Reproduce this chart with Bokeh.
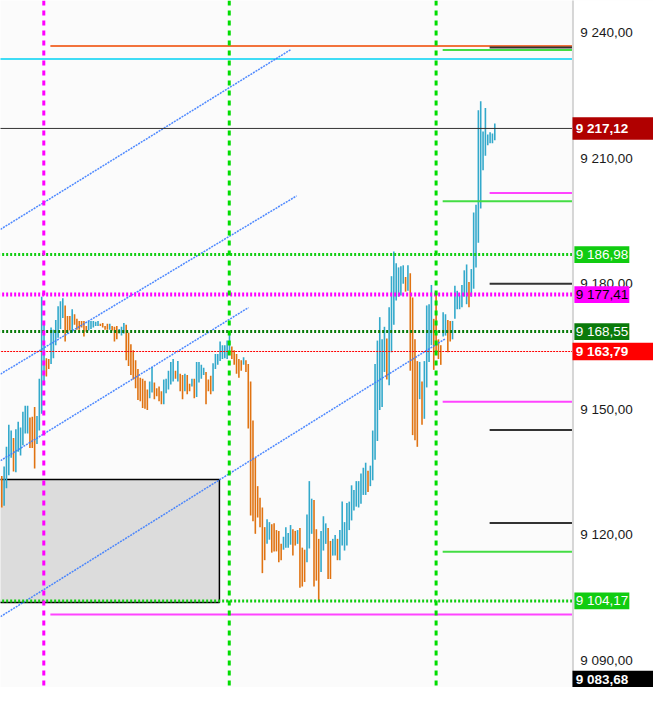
from bokeh.plotting import figure
from bokeh.models import Span, ColumnDataSource, Range1d
from bokeh.core.properties import value
from bokeh.embed import file_html
from bokeh.resources import INLINE

# ---------------- data ----------------
HIGHS = [
    9134.0, 9136.3, 9141.0, 9146.3, 9144.9, 9143.1, 9145.2, 9147.0, 9145.6, 9149.4,
    9150.8, 9150.8, 9148.0, 9148.2, 9150.5, 9148.4, 9157.3, 9176.9, 9171.1, 9162.2,
    9162.0, 9169.5, 9169.0, 9171.3, 9174.6, 9175.8, 9176.5, 9174.8, 9172.3, 9172.3,
    9173.9, 9172.7, 9171.6, 9171.1, 9171.1, 9171.1, 9169.9, 9171.1, 9171.1, 9171.1,
    9170.9, 9171.1, 9170.4, 9170.6, 9169.9, 9170.4, 9170.4, 9169.9, 9169.7, 9169.9,
    9169.2, 9169.7, 9170.6, 9170.2, 9168.3, 9165.5, 9164.1, 9161.7, 9159.6, 9157.5,
    9157.3, 9156.8, 9154.7, 9156.6, 9160.1, 9156.4, 9155.0, 9155.4, 9154.3, 9157.1,
    9157.3, 9159.2, 9161.3, 9162.0, 9159.2, 9161.5, 9158.5, 9158.2, 9158.5, 9158.2,
    9156.1, 9157.3, 9157.3, 9161.3, 9161.3, 9160.6, 9159.9, 9158.9, 9157.1, 9158.0,
    9161.0, 9163.2, 9163.2, 9166.2, 9165.3, 9165.3, 9166.4, 9168.3, 9165.0, 9164.1,
    9163.2, 9162.0, 9161.7, 9162.4, 9161.7, 9160.8, 9156.6, 9147.3, 9138.4, 9131.6,
    9128.8, 9126.5, 9121.8, 9123.7, 9123.0, 9122.5, 9122.7, 9121.1, 9120.9, 9117.8,
    9119.5, 9121.8, 9120.4, 9122.3, 9121.3, 9120.9, 9121.1, 9121.6, 9116.9, 9116.4,
    9124.8, 9132.8, 9128.6, 9128.3, 9121.3, 9119.0, 9120.9, 9124.4, 9122.7, 9121.6,
    9118.5, 9119.0, 9119.9, 9119.0, 9121.1, 9127.9, 9123.0, 9127.6, 9127.9, 9131.8,
    9130.7, 9132.8, 9132.8, 9134.6, 9136.0, 9137.2, 9135.3, 9136.5, 9144.9, 9160.8,
    9166.4, 9172.0, 9166.7, 9169.7, 9166.9, 9174.4, 9181.8, 9187.7, 9184.9, 9183.9,
    9184.2, 9184.4, 9181.6, 9184.4, 9182.5, 9176.7, 9166.7, 9161.5, 9161.3, 9156.6,
    9161.5, 9174.8, 9175.1, 9179.7, 9171.6, 9177.6, 9166.7, 9165.3, 9173.2, 9172.7,
    9171.3, 9171.1, 9171.1, 9179.5, 9178.3, 9177.2, 9179.7, 9183.2, 9184.6, 9180.4,
    9183.5, 9197.0, 9198.9, 9221.5, 9223.6, 9216.4, 9222.0, 9215.7, 9216.2, 9215.9,
    9218.3,
]
LOWS = [
    9126.5, 9126.9, 9131.1, 9134.2, 9138.4, 9135.1, 9134.9, 9139.8, 9138.9, 9141.4,
    9144.2, 9144.2, 9140.7, 9140.7, 9135.8, 9141.7, 9144.9, 9148.9, 9156.1, 9157.8,
    9159.6, 9160.8, 9162.2, 9165.3, 9167.1, 9169.2, 9171.8, 9166.2, 9168.3, 9168.8,
    9168.3, 9170.2, 9169.0, 9169.0, 9169.5, 9167.4, 9168.5, 9168.8, 9169.2, 9169.5,
    9169.9, 9169.9, 9169.9, 9169.5, 9169.0, 9169.0, 9169.0, 9168.8, 9166.2, 9166.7,
    9168.1, 9167.6, 9168.1, 9161.7, 9160.3, 9158.2, 9157.1, 9155.0, 9152.2, 9151.9,
    9150.3, 9150.1, 9149.8, 9152.6, 9154.0, 9152.4, 9153.1, 9151.9, 9151.2, 9151.2,
    9153.8, 9154.7, 9155.9, 9156.6, 9157.3, 9156.6, 9154.3, 9152.4, 9154.3, 9153.6,
    9154.3, 9155.4, 9152.6, 9152.9, 9156.4, 9157.3, 9158.2, 9151.2, 9154.3, 9153.6,
    9154.3, 9159.6, 9160.6, 9161.5, 9162.0, 9162.2, 9162.0, 9163.6, 9162.0, 9160.6,
    9158.5, 9157.5, 9159.2, 9160.6, 9158.9, 9145.4, 9124.6, 9123.2, 9120.2, 9124.1,
    9121.8, 9110.8, 9113.9, 9117.8, 9118.8, 9115.7, 9116.0, 9116.0, 9113.4, 9113.9,
    9116.4, 9116.9, 9116.9, 9117.6, 9115.0, 9117.4, 9117.8, 9107.3, 9107.6, 9108.7,
    9113.4, 9116.7, 9120.2, 9107.6, 9109.0, 9104.1, 9111.1, 9116.2, 9117.8, 9109.4,
    9109.4, 9115.0, 9115.0, 9113.9, 9113.9, 9117.4, 9116.2, 9117.4, 9121.1, 9123.4,
    9125.8, 9126.7, 9126.5, 9127.4, 9129.5, 9129.5, 9130.2, 9131.6, 9133.0, 9137.9,
    9142.4, 9149.8, 9150.5, 9158.9, 9157.1, 9155.7, 9163.6, 9170.2, 9176.0, 9176.9,
    9177.2, 9180.0, 9178.1, 9178.3, 9159.2, 9143.8, 9142.6, 9141.0, 9152.4, 9146.3,
    9147.7, 9155.2, 9161.3, 9165.3, 9159.4, 9163.6, 9162.0, 9160.6, 9167.4, 9167.6,
    9163.6, 9166.2, 9166.7, 9171.6, 9173.9, 9173.9, 9174.4, 9176.9, 9175.1, 9174.4,
    9176.9, 9178.8, 9183.9, 9189.8, 9198.0, 9207.1, 9210.6, 9213.1, 9213.6, 9213.6,
    9214.3,
]
# U = rising bar, D = falling bar
DIRECTION = list(
    "DUUUUDUUUU" "UUDDDUUUUD" "DUUUUUUDDD" "UDDDDDDUUU" "UUDDDDUDDD"
    "UUUDDDDDDD" "DDDUUDDDDU" "UUUUDUDDUD" "DUDUUUUDDD" "UUUUUUUUDD"
    "DDDUDDDDDD" "DDDUUDDDDD" "UUUUDDUDDD" "UUUDDDUUUD" "DUUDUUUUUU"
    "UUUUUUDUUU" "UUUUDUUUUU" "UUDUDDDDUD" "UUUUDDDDUU" "DDUUUUUUUD"
    "UUUUUUUUUUU"
)

# price scale
TICK_VALUES = [9090, 9120, 9150, 9180, 9210, 9240]
TICK_LABELS = ["9 090,00", "9 120,00", "9 150,00", "9 180,00", "9 210,00", "9 240,00"]

# visible window (bar index / price); the price scale column sits right of SCALE_X
X_START, X_END = -0.54, 277.6
SCALE_X = 243.3
Y_MIN, Y_MAX = 9083.46, 9247.71

# vertical session markers (bar index)
VLINE_MAGENTA = [17.9]
VLINE_GREEN = [96.9, 185.0]

# full-width levels
CURRENT_PRICE = [9217.12]
LEVEL_GREEN_DOTTED = [9186.98, 9104.17]
LEVEL_MAGENTA_DOTTED = [9177.41]
LEVEL_DKGREEN_DOTTED = [9168.55]
LEVEL_RED_DASHED = [9163.79]
LEVEL_CYAN = [9233.7]

# partial levels: price, starting bar index
ORANGE_LEVELS = [9236.85]
ORANGE_STARTS = [20.7]
GREEN_LEVELS = [9235.9, 9199.7, 9115.9]
GREEN_STARTS = [187.8, 187.8, 187.8]
MAGENTA_LEVELS = [9201.7, 9151.8, 9100.9]
MAGENTA_STARTS = [207.8, 187.8, 20.7]
DARK_LEVELS = [9236.5, 9180.0, 9145.0, 9122.8]
DARK_STARTS = [207.8, 207.8, 207.8, 207.8]

# channel lines (bar index, price)
CH_X0 = [-0.54, -0.54, -0.54, -0.54]
CH_Y0 = [9193.0, 9158.4, 9137.7, 9100.4]
CH_X1 = [123.2, 125.6, 105.1, 189.1]
CH_Y1 = [9236.0, 9201.0, 9174.3, 9166.9]

# zone box
BOX_LEFT, BOX_RIGHT = -3.0, 92.7
BOX_BOTTOM, BOX_TOP = 9103.8, 9133.2

# price badges
BADGE_PRICES = [9217.12, 9186.98, 9177.41, 9168.55, 9163.79, 9104.17, 9083.68]
BADGE_TEXTS = ["9 217,12", "9 186,98", "9 177,41", "9 168,55", "9 163,79", "9 104,17", "9 083,68"]

# ---------------- figure ----------------
UP_COLOR = "#33a9cb"
DOWN_COLOR = "#e07312"
FONT = "Liberation Sans"
FS = "13.5px"

p = figure(width=653, height=687, output_backend="svg", toolbar_location=None,
           x_range=Range1d(X_START, X_END), y_range=Range1d(Y_MIN, Y_MAX),
           x_axis_location=None, y_axis_location=None,
           min_border_left=0, min_border_top=0, min_border_bottom=0, min_border_right=0,
           background_fill_color="#fbfbfb", border_fill_color="white",
           outline_line_color=None)
p.xgrid.grid_line_color = None
p.ygrid.grid_line_color = None

# zone box
p.quad(left=[BOX_LEFT], right=[BOX_RIGHT], bottom=[BOX_BOTTOM], top=[BOX_TOP],
       fill_color="#dcdcdc", line_color="black", line_width=1.5)

# bars
src = ColumnDataSource(dict(
    x=list(range(len(HIGHS))), hi=HIGHS, lo=LOWS,
    color=[UP_COLOR if d == "U" else DOWN_COLOR for d in DIRECTION]))
p.segment(x0="x", y0="lo", x1="x", y1="hi", line_color="color", line_width=1.6, source=src)


def hlines(levels, starts, color, width, dash="solid"):
    p.segment(x0=starts, x1=[SCALE_X] * len(levels), y0=levels, y1=levels,
              line_color=color, line_width=width, line_dash=dash)


hlines(ORANGE_LEVELS, ORANGE_STARTS, "#f2733c", 2)
hlines(LEVEL_CYAN, [X_START - 1] * len(LEVEL_CYAN), "#3fdcf5", 2)
hlines(DARK_LEVELS, DARK_STARTS, "#333333", 2)
hlines(GREEN_LEVELS, GREEN_STARTS, "#44dd44", 2)
hlines(MAGENTA_LEVELS, MAGENTA_STARTS, "#ff44ff", 2)

# channel lines
p.segment(x0=CH_X0, y0=CH_Y0, x1=CH_X1, y1=CH_Y1, line_color="#3b7cff",
          line_width=1.5, line_dash="2 1", line_alpha=0.9)

# full-width levels
hlines(CURRENT_PRICE, [X_START - 1], "#333333", 1)
hlines(LEVEL_RED_DASHED, [X_START - 1] * len(LEVEL_RED_DASHED), "#ff0000", 1, "2 1")
hlines(LEVEL_DKGREEN_DOTTED, [X_START - 1] * len(LEVEL_DKGREEN_DOTTED), "#077a07", 3, "2 2")
hlines(LEVEL_GREEN_DOTTED, [X_START - 1] * len(LEVEL_GREEN_DOTTED), "#11cc11", 3, "2 2")
hlines(LEVEL_MAGENTA_DOTTED, [X_START - 1] * len(LEVEL_MAGENTA_DOTTED), "#ff00ff", 4, "2 2")

# vertical markers
for vx in VLINE_MAGENTA:
    p.add_layout(Span(location=vx, dimension="height", line_color="#ff00ff", line_width=3, line_dash="5 5"))
for vx in VLINE_GREEN:
    p.add_layout(Span(location=vx, dimension="height", line_color="#00dd00", line_width=3, line_dash="5 5"))

# price scale column
p.quad(left=[SCALE_X], right=[X_END + 2], bottom=[Y_MIN - 2], top=[Y_MAX + 2],
       fill_color="white", line_color=None)
p.segment(x0=[SCALE_X], x1=[SCALE_X], y0=[Y_MIN - 2], y1=[Y_MAX + 2],
          line_color="#d6d6d6", line_width=2)
p.text(x=[246.4] * len(TICK_VALUES), y=TICK_VALUES, text=TICK_LABELS,
       text_font=value(FONT), text_font_size=value(FS), text_color="#1a1a1a",
       text_align="left", text_baseline="middle")

# badges: (background, text colour, bold, full width, half height in price units)
BADGE_STYLE = [
    ("#b00000", "white", True, True, 2.7),
    ("#11cc11", "white", False, False, 2.0),
    ("#ff00ff", "black", False, False, 2.0),
    ("#0a7a0a", "white", False, False, 2.0),
    ("#ff0000", "white", True, True, 2.1),
    ("#11cc11", "white", False, False, 2.0),
    ("#000000", "white", True, True, 2.1),
]
for price, txt, (bg, fg, bold, full, hh) in zip(BADGE_PRICES, BADGE_TEXTS, BADGE_STYLE):
    ty = max(price, Y_MIN + 1.9)
    left = SCALE_X - 0.2 if full else 243.9
    right = X_END + 2 if full else 267.3
    p.quad(left=[left], right=[right], bottom=[ty - hh], top=[ty + hh],
           fill_color=bg, line_color=None)
    p.text(x=[244.5], y=[ty], text=[txt], text_font=value(FONT), text_font_size=value(FS),
           text_font_style="bold" if bold else "normal", text_color=fg,
           text_align="left", text_baseline="middle")

open("out.html", "w").write(file_html(p, INLINE))
